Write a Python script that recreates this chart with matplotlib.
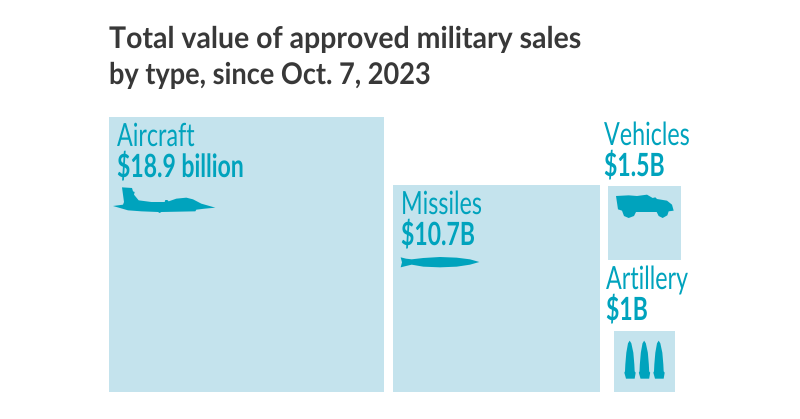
import numpy as np
import matplotlib
matplotlib.use("Agg")
import matplotlib.pyplot as plt
from matplotlib.patches import Rectangle, Polygon
from matplotlib.patheffects import AbstractPathEffect
from matplotlib.transforms import Affine2D

# values in billions, squares are sized by area
categories = ["Aircraft", "Missiles", "Vehicles", "Artillery"]
square_values = [18.9, 10.7, 1.35, 0.93]
value_labels = ["$18.9 billion", "$10.7B", "$1.5B", "$1B"]

# left edge and bottom edge of each square, in pixels
square_left = [109, 393, 608, 614]
square_bottom = [392, 392, 259.5, 392]
# text anchor of the labels, in pixels
label_x = [117, 401, 604, 606]
label_y = [146, 214, 145, 289]
value_y = [177, 245, 176, 320]

title_lines = ["Total value of approved military sales", "by type, since Oct. 7, 2023"]
title_y = [48, 84]
title_squeeze = [0.953, 0.909]

PX_PER_SQRT = 275 / np.sqrt(18.9)
SQUARE = "#c4e3ed"
TEAL = "#00a3bd"

# icon outlines (3x pixel offsets from the icon origin)
plane = np.array([(42, 16), (72, 18), (75, 28), (80, 30), (78, 38), (92, 55), (130, 60), (170, 60),
                  (172, 54), (178, 54), (182, 58), (205, 50), (235, 47), (255, 52), (280, 65), (322, 77),
                  (290, 80), (265, 83), (262, 88), (160, 90), (155, 93), (150, 90), (100, 88), (60, 85),
                  (15, 72), (45, 68), (48, 60)]) / 3
missile = np.array([(32, 232), (48, 236), (65, 238), (100, 234), (150, 231), (200, 233), (240, 238),
                    (268, 246), (240, 254), (200, 260), (150, 262), (100, 260), (65, 254), (48, 258),
                    (32, 262), (36, 247)]) / 3
truck = np.array([(12, 24), (50, 22), (75, 24), (105, 20), (122, 30), (130, 28), (135, 33), (165, 38),
                  (180, 50), (185, 68), (170, 70), (166, 82), (152, 90), (140, 84), (134, 72), (72, 72),
                  (66, 84), (50, 90), (36, 84), (30, 68), (18, 64)]) / 3
shell = np.array([(35, 14), (40, 22), (46, 50), (49, 85), (50, 106), (53, 110), (50, 128), (24, 128),
                  (19, 110), (21, 106), (22, 85), (25, 50), (30, 22)]) / 3


class Squeeze(AbstractPathEffect):
    # narrow the glyphs sideways, no condensed font is installed
    def __init__(self, sx, x0):
        super().__init__()
        self.sx = sx
        self.x0 = x0

    def draw_path(self, renderer, gc, tpath, affine, rgbFace=None):
        squeeze = Affine2D().translate(-self.x0, 0).scale(self.sx, 1).translate(self.x0, 0)
        renderer.draw_path(gc, tpath, affine + squeeze, rgbFace)


def add_icon(ax, outline, x, y):
    ax.add_patch(Polygon(outline + (x, y), closed=True, fc=TEAL, ec="none", zorder=3))


fig = plt.figure(figsize=(8, 4.19), dpi=100)
ax = fig.add_axes([0, 0, 1, 1])
ax.set_xlim(0, 800)
ax.set_ylim(419, 0)
ax.axis("off")

for line, y, sx in zip(title_lines, title_y, title_squeeze):
    ax.text(109, y, line, family="Lato", weight="bold", fontsize=21.5, color="#383838", va="baseline",
            path_effects=[Squeeze(sx, 109)])

for i, name in enumerate(categories):
    side = PX_PER_SQRT * np.sqrt(square_values[i])
    ax.add_patch(Rectangle((square_left[i], square_bottom[i] - side), side, side, fc=SQUARE, ec="none"))
    ax.text(label_x[i], label_y[i], name, family="Lato", fontsize=23, color=TEAL, va="baseline",
            path_effects=[Squeeze(0.73, label_x[i])])
    ax.text(label_x[i], value_y[i], value_labels[i], family="Lato", weight="bold", fontsize=23,
            color=TEAL, va="baseline", path_effects=[Squeeze(0.72, label_x[i])])

add_icon(ax, plane, 108, 182)
add_icon(ax, missile, 390, 180)
add_icon(ax, truck, 612, 188)
for dx in [0, 14.5, 29]:
    add_icon(ax, shell, 618 + dx, 336)

fig.savefig("out.png", dpi=100)
